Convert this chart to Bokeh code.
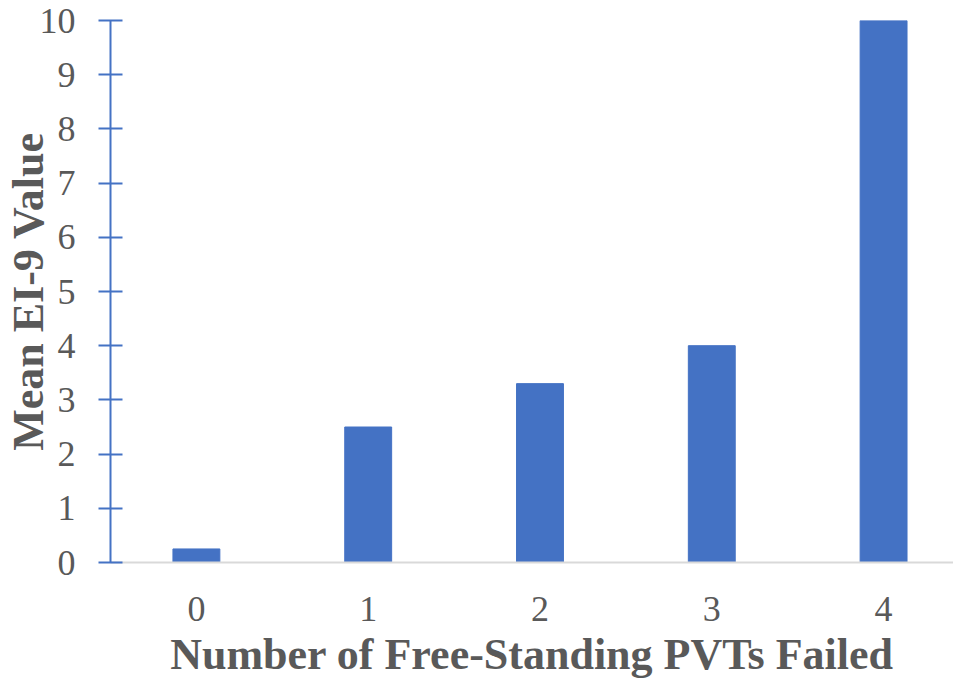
from bokeh.plotting import figure
from bokeh.models import ColumnDataSource, FixedTicker, Range1d
from bokeh.embed import file_html
from bokeh.resources import INLINE

categories = [0, 1, 2, 3, 4]
tick_labels = ["0", "1", "2", "3", "4"]
mean_ei9 = [0.25, 2.5, 3.3, 4.0, 10.0]

FONT = "Liberation Serif"
TXT = "#595959"
BLUE = "#4472C4"

src = ColumnDataSource(dict(x=categories, top=mean_ei9))

p = figure(width=953, height=681, output_backend="svg", toolbar_location=None,
           x_range=Range1d(-0.5, 4.407), y_range=Range1d(0, 10),
           min_border_left=109, min_border_right=0, min_border_top=20, min_border_bottom=0)

p.vbar(x="x", top="top", width=0.273, source=src, color=BLUE)

p.xgrid.visible = False
p.ygrid.visible = False
p.outline_line_color = None

xa = p.xaxis[0]
xa.ticker = FixedTicker(ticks=categories)
xa.major_label_overrides = {c: l for c, l in zip(categories, tick_labels)}
xa.axis_line_color = "#D9D9D9"
xa.axis_line_width = 2
xa.major_tick_line_color = None
xa.minor_tick_line_color = None
xa.major_label_text_font = FONT
xa.major_label_text_font_size = "36px"
xa.major_label_text_color = TXT
xa.major_label_standoff = 28
xa.axis_label = "Number of Free-Standing PVTs Failed"
xa.axis_label_text_font = FONT
xa.axis_label_text_font_size = "44px"
xa.axis_label_text_font_style = "bold"
xa.axis_label_text_color = TXT
xa.axis_label_standoff = 6

ya = p.yaxis[0]
ya.ticker = FixedTicker(ticks=list(range(0, 11)))
ya.axis_line_color = BLUE
ya.axis_line_width = 2
ya.major_tick_line_color = BLUE
ya.major_tick_line_width = 2
ya.major_tick_in = 12
ya.major_tick_out = 12
ya.minor_tick_line_color = None
ya.major_label_text_font = FONT
ya.major_label_text_font_size = "36px"
ya.major_label_text_color = TXT
ya.major_label_standoff = 23
ya.axis_label = "Mean EI-9 Value"
ya.axis_label_text_font = FONT
ya.axis_label_text_font_size = "44px"
ya.axis_label_text_font_style = "bold"
ya.axis_label_text_color = TXT
ya.axis_label_standoff = -16

open("out.html", "w").write(file_html(p, INLINE))
